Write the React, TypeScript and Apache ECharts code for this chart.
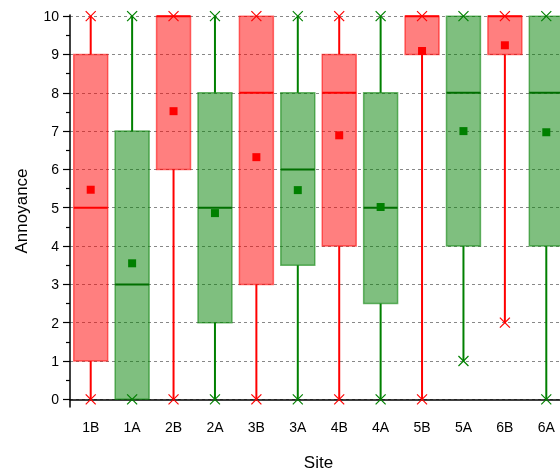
import React, { useEffect, useRef } from "react";
import * as echarts from "echarts";

const categories = ["1B", "1A", "2B", "2A", "3B", "3A", "4B", "4A", "5B", "5A", "6B", "6A"];
const mins = [0, 0, 0, 0, 0, 0, 0, 0, 0, 1, 2, 0];
const q1s = [1, 0, 6, 2, 3, 3.5, 4, 2.5, 9, 4, 9, 4];
const medians = [5, 3, 10, 5, 8, 6, 8, 5, 10, 8, 10, 8];
const q3s = [9, 7, 10, 8, 10, 8, 9, 8, 10, 10, 10, 10];
const maxs = [10, 10, 10, 10, 10, 10, 10, 10, 10, 10, 10, 10];
const means = [5.47, 3.55, 7.52, 4.86, 6.32, 5.46, 6.89, 5.02, 9.09, 7.0, 9.24, 6.97];
const yTicks = [0, 1, 2, 3, 4, 5, 6, 7, 8, 9, 10];
const yMinorTicks = [0.5, 1.5, 2.5, 3.5, 4.5, 5.5, 6.5, 7.5, 8.5, 9.5];

const FONT = "'Liberation Sans', Arial, sans-serif";

const palette: Record<string, { line: string; fill: string; stroke: string; median: string }> = {
  B: { line: "#ff0000", fill: "rgba(255,0,0,0.5)", stroke: "rgba(255,0,0,0.55)", median: "#ff0000" },
  A: { line: "#008000", fill: "rgba(0,128,0,0.5)", stroke: "rgba(0,128,0,0.55)", median: "#006f00" },
};

export default function App() {
  const ref = useRef<HTMLDivElement>(null);
  useEffect(() => {
    if (!ref.current) return;
    const chart = echarts.init(ref.current, null, { renderer: "svg" });
    const data = categories.map((c, i) => [i, mins[i], q1s[i], medians[i], q3s[i], maxs[i], means[i]]);

    const renderItem = (params: any, api: any) => {
      const idx = api.value(0);
      const grp = categories[idx].slice(-1);
      const col = palette[grp];
      const x = api.coord([idx, 0])[0];
      const band = api.size([1, 0])[0];
      const w = band * 0.82;
      const yMin = api.coord([idx, api.value(1)])[1];
      const yQ1 = api.coord([idx, api.value(2)])[1];
      const yMed = api.coord([idx, api.value(3)])[1];
      const yQ3 = api.coord([idx, api.value(4)])[1];
      const yMax = api.coord([idx, api.value(5)])[1];
      const yMean = api.coord([idx, api.value(6)])[1];
      const cross = (cy: number) => {
        const s = 5;
        return [
          { type: "line", shape: { x1: x - s, y1: cy - s, x2: x + s, y2: cy + s }, style: { stroke: col.line, lineWidth: 1.2 } },
          { type: "line", shape: { x1: x - s, y1: cy + s, x2: x + s, y2: cy - s }, style: { stroke: col.line, lineWidth: 1.2 } },
        ];
      };
      const ms = 8;
      return {
        type: "group",
        children: [
          { type: "line", shape: { x1: x, y1: yQ1, x2: x, y2: yMin }, style: { stroke: col.line, lineWidth: 2 } },
          { type: "line", shape: { x1: x, y1: yQ3, x2: x, y2: yMax }, style: { stroke: col.line, lineWidth: 2 } },
          {
            type: "rect",
            shape: { x: x - w / 2, y: yQ3, width: w, height: yQ1 - yQ3 },
            style: { fill: col.fill, stroke: col.stroke, lineWidth: 1.5 },
          },
          { type: "line", shape: { x1: x - w / 2, y1: yMed, x2: x + w / 2, y2: yMed }, style: { stroke: col.median, lineWidth: 2 } },
          ...cross(yMin),
          ...cross(yMax),
          { type: "rect", shape: { x: x - ms / 2, y: yMean - ms / 2, width: ms, height: ms }, style: { fill: col.line } },
        ],
      };
    };

    chart.setOption({
      animation: false,
      textStyle: { fontFamily: FONT },
      grid: { left: 70, top: 15, width: 497, height: 392, containLabel: false, outerBoundsMode: "none" },
      xAxis: {
        type: "category",
        data: categories,
        boundaryGap: true,
        axisLine: { lineStyle: { color: "#000", width: 1.5 } },
        axisTick: { alignWithLabel: true, length: 7, lineStyle: { color: "#000", width: 1.2 } },
        axisLabel: { color: "#000", fontSize: 14, margin: 13, fontFamily: FONT, interval: 0 },
        splitLine: { show: false },
        name: "Site",
        nameLocation: "middle",
        nameGap: 47,
        nameTextStyle: { color: "#000", fontSize: 17, fontFamily: FONT },
      },
      yAxis: [
        {
          type: "value",
          min: -0.2,
          max: 10.03,
          position: "left",
          axisLine: { show: true, lineStyle: { color: "#000", width: 1.5 } },
          axisTick: { show: true, customValues: yTicks, length: 7, lineStyle: { color: "#000", width: 1.2 } },
          axisLabel: { customValues: yTicks, color: "#000", fontSize: 14, margin: 11, fontFamily: FONT },
          splitLine: { show: true, lineStyle: { color: "#888", type: [3, 3], width: 1 } },
          name: "Annoyance",
          nameLocation: "middle",
          nameGap: 40,
          nameTextStyle: { color: "#000", fontSize: 17, fontFamily: FONT },
        },
        {
          type: "value",
          min: -0.2,
          max: 10.03,
          position: "left",
          axisLine: { show: false },
          axisTick: { show: true, customValues: yMinorTicks, length: 4, lineStyle: { color: "#000", width: 1.2 } },
          axisLabel: { show: false },
          splitLine: { show: false },
        },
      ],
      series: [
        {
          type: "custom",
          renderItem,
          data,
          encode: { x: 0, y: [1, 2, 3, 4, 5, 6] },
          clip: false,
        },
      ],
    });
    return () => chart.dispose();
  }, []);
  return <div ref={ref} style={{ position: "fixed", left: 0, top: 0, width: 560, height: 473 }} />;
}
